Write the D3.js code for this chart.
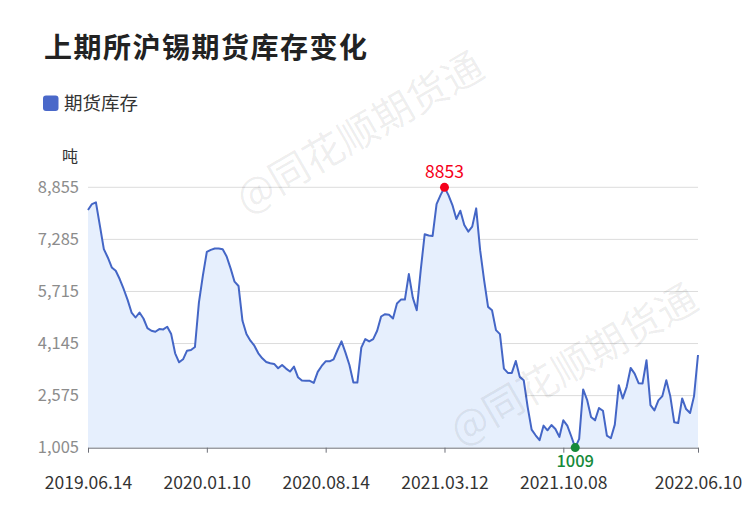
<!DOCTYPE html>
<html>
<head>
<meta charset="utf-8">
<script src="https://cdn.jsdelivr.net/npm/d3@7/dist/d3.min.js"></script>
<style>
html,body{margin:0;padding:0;background:#fff;}
svg{display:block;font-family:"Noto Sans CJK SC","Noto Sans",sans-serif;}
</style>
</head>
<body>
<svg id="chart" width="750" height="510"></svg>
<script>
const titleText = "上期所沪锡期货库存变化";
const seriesName = "期货库存";
const unitLabel = "吨";
const watermarkText = "@同花顺期货通";

const dates = [
"2019.06.14","2019.06.21","2019.06.28","2019.07.05","2019.07.12","2019.07.19","2019.07.26","2019.08.02","2019.08.09","2019.08.16",
"2019.08.23","2019.08.30","2019.09.06","2019.09.13","2019.09.20","2019.09.27","2019.10.04","2019.10.11","2019.10.18","2019.10.25",
"2019.11.01","2019.11.08","2019.11.15","2019.11.22","2019.11.29","2019.12.06","2019.12.13","2019.12.20","2019.12.27","2020.01.03",
"2020.01.10","2020.01.17","2020.01.24","2020.02.07","2020.02.14","2020.02.21","2020.02.28","2020.03.06","2020.03.13","2020.03.20",
"2020.03.27","2020.04.03","2020.04.10","2020.04.17","2020.04.24","2020.05.01","2020.05.08","2020.05.15","2020.05.22","2020.05.29",
"2020.06.05","2020.06.12","2020.06.19","2020.06.26","2020.07.03","2020.07.10","2020.07.17","2020.07.24","2020.07.31","2020.08.07",
"2020.08.14","2020.08.21","2020.08.28","2020.09.04","2020.09.11","2020.09.18","2020.09.25","2020.10.02","2020.10.09","2020.10.16",
"2020.10.23","2020.10.30","2020.11.06","2020.11.13","2020.11.20","2020.11.27","2020.12.04","2020.12.11","2020.12.18","2020.12.25",
"2021.01.01","2021.01.08","2021.01.15","2021.01.22","2021.01.29","2021.02.05","2021.02.12","2021.02.19","2021.02.26","2021.03.05",
"2021.03.12","2021.03.19","2021.03.26","2021.04.02","2021.04.09","2021.04.16","2021.04.23","2021.04.30","2021.05.07","2021.05.14",
"2021.05.21","2021.05.28","2021.06.04","2021.06.11","2021.06.18","2021.06.25","2021.07.02","2021.07.09","2021.07.16","2021.07.23",
"2021.07.30","2021.08.06","2021.08.13","2021.08.20","2021.08.27","2021.09.03","2021.09.10","2021.09.17","2021.09.24","2021.10.01",
"2021.10.08","2021.10.15","2021.10.22","2021.10.29","2021.11.05","2021.11.12","2021.11.19","2021.11.26","2021.12.03","2021.12.10",
"2021.12.17","2021.12.24","2021.12.31","2022.01.07","2022.01.14","2022.01.21","2022.01.28","2022.02.11","2022.02.18","2022.02.25",
"2022.03.04","2022.03.11","2022.03.18","2022.03.25","2022.04.01","2022.04.08","2022.04.15","2022.04.22","2022.04.29","2022.05.06",
"2022.05.13","2022.05.20","2022.05.27","2022.06.03","2022.06.10"
];

const inventory = [
8170,8350,8400,7700,6990,6740,6440,6340,6090,5790,
5460,5080,4930,5080,4900,4610,4530,4500,4580,4570,
4650,4430,3850,3580,3670,3930,3950,4040,5380,6190,
6910,6970,7010,7010,6990,6770,6410,6010,5880,4830,
4430,4230,4080,3850,3700,3590,3550,3530,3400,3500,
3390,3300,3450,3130,3030,3020,3020,2960,3290,3470,
3610,3610,3670,3950,4210,3870,3500,2970,2970,4020,
4280,4210,4280,4530,4960,5030,5010,4900,5350,5470,
5470,6240,5530,5150,6360,7440,7400,7390,8350,8620,
8853,8620,8320,7900,8150,7720,7520,7670,8220,6960,
6060,5250,5150,4550,4430,3390,3260,3260,3620,3140,
3040,2230,1550,1380,1230,1670,1530,1690,1570,1330,
1830,1670,1350,1009,1270,2760,2450,1930,1830,2200,
2120,1370,1290,1700,2890,2490,2840,3410,3240,2950,
2940,3640,2290,2130,2430,2560,3040,2560,1770,1750,
2490,2170,2050,2560,3800
];

const yTicks = [1005, 2575, 4145, 5715, 7285, 8855];
const xTickLabels = ["2019.06.14","2020.01.10","2020.08.14","2021.03.12","2021.10.08","2022.06.10"];

const data = dates.map((d, i) => ({date: d, value: inventory[i]}));

const svg = d3.select("#chart");
const plotLeft = 88, plotRight = 698, plotTop = 187.3, plotBottom = 447.7;

const x = d3.scalePoint().domain(dates).range([plotLeft, plotRight]);
const y = d3.scaleLinear().domain([yTicks[0], yTicks[yTicks.length-1]]).range([plotBottom, plotTop]);

// Title
svg.append("text").attr("x", 44).attr("y", 58)
  .attr("font-size", 28).attr("font-weight", 700).attr("fill", "#222")
  .attr("letter-spacing", "1.5px").text(titleText);

// Legend
svg.append("rect").attr("x", 43).attr("y", 95.5).attr("width", 15.5).attr("height", 15.5)
  .attr("rx", 3).attr("fill", "#4a68c9");
svg.append("text").attr("x", 64).attr("y", 110).attr("font-size", 18.5).attr("fill", "#333").text(seriesName);

// Unit
svg.append("text").attr("x", 62).attr("y", 162).attr("font-size", 16).attr("fill", "#333").text(unitLabel);

// Grid lines
svg.append("g").selectAll("line").data(yTicks.slice(1)).join("line")
  .attr("x1", plotLeft).attr("x2", plotRight)
  .attr("y1", d => y(d)).attr("y2", d => y(d))
  .attr("stroke", "#dcdcdc").attr("stroke-width", 1);

// Y axis labels
const yAxis = d3.axisLeft(y).tickValues(yTicks).tickFormat(d3.format(",")).tickSize(0).tickPadding(9);
const gy = svg.append("g").attr("transform", `translate(${plotLeft},0)`).call(yAxis);
gy.select(".domain").remove();
gy.selectAll("text").attr("font-size", 16.5).attr("fill", "#8c8c8c")
  .attr("font-family", "'Noto Sans CJK SC','Noto Sans',sans-serif");

// Area + line
const area = d3.area().x(d => x(d.date)).y0(plotBottom).y1(d => y(d.value));
const line = d3.line().x(d => x(d.date)).y(d => y(d.value));
svg.append("path").datum(data).attr("d", area).attr("fill", "#e6effd");
svg.append("path").datum(data).attr("d", line).attr("fill", "none")
  .attr("stroke", "#4466c6").attr("stroke-width", 2).attr("stroke-linejoin", "round");

// X axis
const xAxis = d3.axisBottom(x).tickValues(xTickLabels).tickSize(5).tickPadding(24).tickSizeOuter(0);
const gx = svg.append("g").attr("transform", `translate(0,${plotBottom})`).call(xAxis);
gx.select(".domain").attr("stroke", "#6e7079");
gx.selectAll(".tick line").attr("stroke", "#6e7079");
gx.selectAll("text").attr("font-size", 17.5).attr("fill", "#333")
  .attr("font-family", "'Noto Sans CJK SC','Noto Sans',sans-serif");

// Max / min markers
const maxD = data.reduce((a, b) => b.value > a.value ? b : a);
const minD = data.reduce((a, b) => b.value < a.value ? b : a);
svg.append("circle").attr("cx", x(maxD.date)).attr("cy", y(maxD.value)).attr("r", 4.5).attr("fill", "#f5001a");
svg.append("text").attr("x", x(maxD.date)).attr("y", y(maxD.value) - 9)
  .attr("text-anchor", "middle").attr("font-size", 17.5).attr("fill", "#f5001a").text(maxD.value);
svg.append("circle").attr("cx", x(minD.date)).attr("cy", y(minD.value)).attr("r", 4.5).attr("fill", "#168a3a");
svg.append("text").attr("x", x(minD.date)).attr("y", y(minD.value) + 19.5)
  .attr("text-anchor", "middle").attr("font-size", 16.5).attr("font-weight", 500).attr("fill", "#168a3a").text(minD.value);

// Watermarks
[[358, 130], [572, 362]].forEach(([cx, cy]) => {
  svg.append("text").attr("transform", `translate(${cx},${cy}) rotate(-30)`)
    .attr("text-anchor", "middle").attr("dominant-baseline", "central")
    .attr("font-size", 40).attr("fill", "rgba(0,0,0,0.07)").text(watermarkText);
});
</script>
</body>
</html>
